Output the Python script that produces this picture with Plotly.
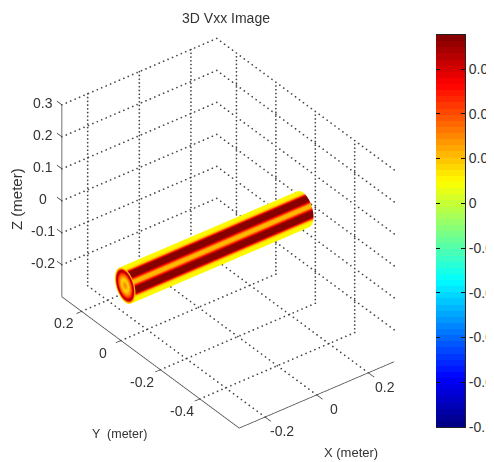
import numpy as np
import plotly.graph_objects as go

FONT = "Liberation Sans"
TXT = "#333333"
OFF = 8  # the browser page adds this body margin around the figure
x_ticks = [-0.2, 0, 0.2]
y_ticks = [-0.4, -0.2, 0, 0.2]
z_ticks = [-0.2, -0.1, 0, 0.1, 0.2, 0.3]
x_lim = [-0.3, 0.3]
y_lim = [-0.6, 0.3]
z_lim = [-0.3, 0.3]
c_ticks = [0.06, 0.04, 0.02, 0, -0.02, -0.04, -0.06, -0.08, -0.1]
c_labels = ["0.06", "0.04", "0.02", "0", "-0.02", "-0.04", "-0.06", "-0.08", "-0.1"]
c_lim = [-0.1, 0.0752]
tube_x = [-0.41, 0.28]
tube_y = -0.165
tube_z = -0.015
tube_r = 0.052
angle_deg = [0, 84, 92, 98, 102, 105, 109, 128, 132, 136, 140, 148, 152, 156, 160, 179, 183, 186, 190, 196, 204, 360]
angle_vxx = [0.009, 0.009, 0.012, 0.02, 0.04, 0.055, 0.074, 0.074, 0.055, 0.035, 0.02, 0.02, 0.035, 0.055, 0.074, 0.074, 0.055, 0.04, 0.02, 0.012, 0.009, 0.009]
cap_radius = [0, 0.008, 0.016, 0.024, 0.03, 0.036, 0.04, 0.044, 0.047, 0.052]
cap_vxx = [0.03, 0.025, 0.015, 0.025, 0.035, 0.05, 0.07, 0.06, 0.03, 0.009]

def jet(f):
    return (np.clip(1.5 - abs(4 * f - 3), 0, 1), np.clip(1.5 - abs(4 * f - 2), 0, 1), np.clip(1.5 - abs(4 * f - 1), 0, 1))

scale = []
for i in range(64):
    r, g, b = jet((i + 0.5) / 64)
    col = f"rgb({int(r*255)},{int(g*255)},{int(b*255)})"
    scale += [[i / 64, col], [(i + 1) / 64, col]]

t = np.radians(np.arange(0, 361, 1))
xs = np.array(tube_x)
tt, xx = np.meshgrid(t, xs)
yy = tube_y + tube_r * np.cos(tt)
zz = tube_z + tube_r * np.sin(tt)
vv = np.interp(np.degrees(tt), angle_deg, angle_vxx)
light = dict(ambient=1, diffuse=0, specular=0, roughness=1, fresnel=0)
fig = go.Figure()
common = dict(colorscale=scale, cmin=c_lim[0], cmax=c_lim[1], lighting=light, hoverinfo="skip", showscale=False)
fig.add_trace(go.Surface(x=xx, y=yy, z=zz, surfacecolor=vv, **common))
rr = np.linspace(0, tube_r, 41)
R, T = np.meshgrid(rr, t)
fig.add_trace(go.Surface(x=np.full(R.shape, tube_x[0]), y=tube_y + R * np.cos(T), z=tube_z + R * np.sin(T),
                         surfacecolor=np.interp(R, cap_radius, cap_vxx), **common))

# colour bar drawn as a 64-level image on its own axes, as the source does
levels = c_lim[0] + (np.arange(64) + 0.5) / 64 * (c_lim[1] - c_lim[0])
fig.add_trace(go.Heatmap(x=[0], y=levels, z=[[v] for v in levels], zmin=c_lim[0], zmax=c_lim[1], colorscale=scale, showscale=False, hoverinfo="skip"))

def lines(segs, color, width):
    px_, py_, pz_ = [], [], []
    for a, b in segs:
        px_ += [a[0], b[0], None]; py_ += [a[1], b[1], None]; pz_ += [a[2], b[2], None]
    fig.add_trace(go.Scatter3d(x=px_, y=py_, z=pz_, mode="lines", line=dict(color=color, width=width), showlegend=False, hoverinfo="skip"))

def dots(segs, color, size):
    px_, py_, pz_ = [], [], []
    for a, b, n in segs:
        for k in np.linspace(0, 1, n):
            px_.append(a[0] + (b[0] - a[0]) * k); py_.append(a[1] + (b[1] - a[1]) * k); pz_.append(a[2] + (b[2] - a[2]) * k)
    fig.add_trace(go.Scatter3d(x=px_, y=py_, z=pz_, mode="markers", marker=dict(color=color, size=size, line=dict(width=0)), showlegend=False, hoverinfo="skip"))

x0, x1 = x_lim; y0, y1 = y_lim; z0, z1 = z_lim
NX, NY, NZ = 36, 46, 52
grid = []
for v in x_ticks:
    grid.append(((v, y0, z0), (v, y1, z0), NY))
    grid.append(((v, y1, z0), (v, y1, z1), NZ))
for v in y_ticks:
    grid.append(((x0, v, z0), (x1, v, z0), NX))
    grid.append(((x1, v, z0), (x1, v, z1), NZ))
for v in z_ticks:
    grid.append(((x0, y1, v), (x1, y1, v), NX))
    grid.append(((x1, y0, v), (x1, y1, v), NY))
dots(grid, "#444444", 1.0)
lines([((x0, y1, z0), (x0, y1, z1)), ((x0, y1, z0), (x0, y0, z0)), ((x0, y0, z0), (x1, y0, z0))], "#444444", 1.5)
tk = []
for v in x_ticks:
    tk.append(((v, y0, z0), (v, y0 - 0.03, z0)))
for v in y_ticks:
    tk.append(((x0, v, z0), (x0 - 0.02, v, z0)))
for v in z_ticks:
    tk.append(((x0, y1, v), (x0, y1 + 0.025, v)))
lines(tk, "#444444", 1.5)

def label(text, x, y, z, dx, dy, size=14):
    return dict(text=text, x=x, y=y, z=z, xshift=dx, yshift=dy, showarrow=False, font=dict(family=FONT, size=size, color=TXT))
ann = []
for v in x_ticks:
    ann.append(label("0" if v == 0 else f"{v:g}", v, y0, z0, 17, -14))
for v in y_ticks:
    ann.append(label("0" if v == 0 else f"{v:g}", x0, v, z0, -18, -12))
for v in z_ticks:
    ann.append(label("0" if v == 0 else f"{v:g}", x0, y1, v, -19, 2))

def px(xp):
    return (xp - OFF) / 494
def py(yp):
    return 1 - (yp - OFF) / 462

def note(text, x, y, size, angle=0):
    return dict(text=text, x=px(x), y=py(y), xref="paper", yref="paper", xanchor="center", yanchor="middle", textangle=angle,
                showarrow=False, font=dict(family=FONT, size=size, color=TXT))

S = 1.404
fig.update_layout(width=494, height=462, autosize=False, margin=dict(l=0, r=0, t=0, b=0, autoexpand=False), paper_bgcolor="white", plot_bgcolor="white",
    title=dict(text="3D Vxx Image", x=px(226), xanchor="center", y=py(18), yanchor="middle", font=dict(family=FONT, size=14, color=TXT)),
    annotations=[note("Z (meter)", 16, 199, 15, -90), note("Y  (meter)", 119, 434, 12.5), note("X (meter)", 351, 452, 13)],
    xaxis=dict(domain=[px(436), px(465)], anchor="y", showticklabels=False, ticks="", showgrid=False, zeroline=False, showline=True, mirror=True, linecolor="#222222", linewidth=1, fixedrange=True),
    yaxis=dict(domain=[py(427), py(35)], anchor="x", side="right", range=c_lim, tickvals=c_ticks, ticktext=c_labels, ticks="inside", ticklen=4, tickcolor="#111111",
               showgrid=False, zeroline=False, showline=True, mirror="ticks", linecolor="#222222", linewidth=1, fixedrange=True, tickfont=dict(family=FONT, size=14, color=TXT)),
    scene=dict(domain=dict(x=[12/494, 428/494], y=[0, 1]),
        xaxis=dict(visible=False, range=[-0.5, 0.5]), yaxis=dict(visible=False, range=[-0.7, 0.4]), zaxis=dict(visible=False, range=[-0.4, 0.4]),
        aspectmode="manual", aspectratio=dict(x=1*S, y=1.104*S, z=0.955*S),
        camera=dict(projection=dict(type="orthographic"), eye=dict(x=-0.5, y=-0.657, z=0.533), up=dict(x=0, y=0, z=1), center=dict(x=0, y=0, z=-0.03)),
        annotations=ann, bgcolor="white"))
fig.write_html("out.html")
